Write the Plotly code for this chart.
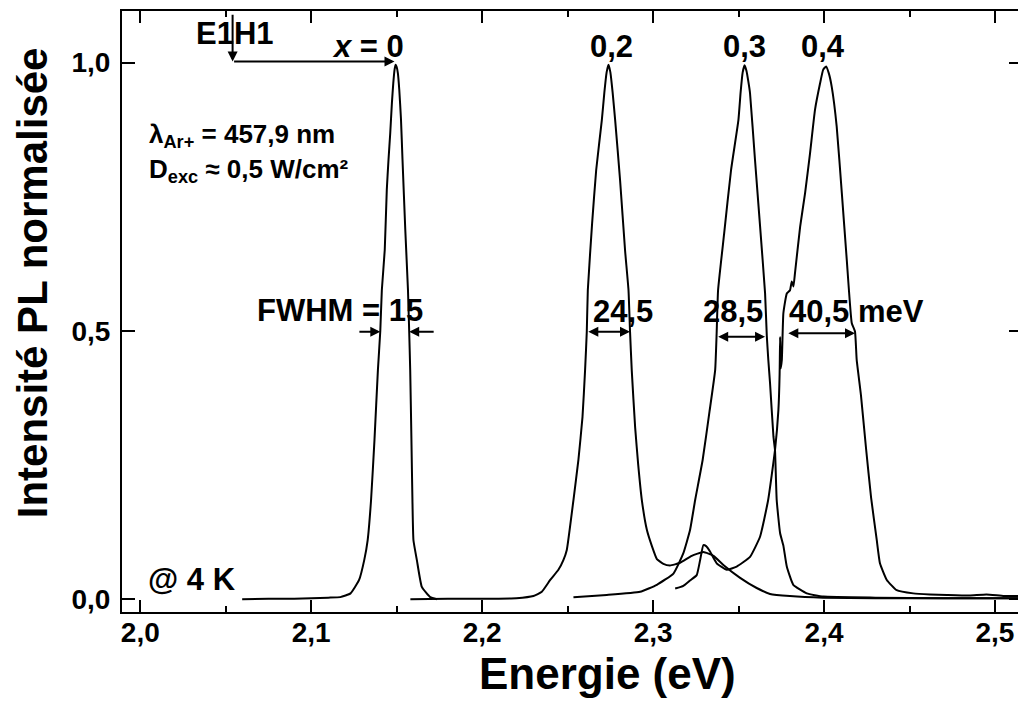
import plotly.graph_objects as go

# ---- data (energy in eV, normalised PL intensity) ----
x0_E = [2.0596, 2.075, 2.090, 2.100, 2.110, 2.117, 2.123, 2.128, 2.131, 2.133, 2.135, 2.137, 2.139,
        2.1404, 2.1413, 2.1430, 2.1442, 2.1452, 2.1462, 2.1472, 2.1480, 2.1488, 2.1494, 2.1500,
        2.1507, 2.1515, 2.1525, 2.1534, 2.1550, 2.1566, 2.1573, 2.1579, 2.1586, 2.1592, 2.1598,
        2.1618, 2.1647, 2.1696, 2.1735]
x0_I = [0.000, 0.001, 0.001, 0.002, 0.003, 0.004, 0.011, 0.036, 0.073, 0.110, 0.185, 0.297, 0.427,
        0.500, 0.576, 0.651, 0.763, 0.819, 0.868, 0.925, 0.962, 0.988, 0.996, 0.992,
        0.980, 0.950, 0.895, 0.819, 0.690, 0.576, 0.500, 0.427, 0.300, 0.185, 0.110,
        0.073, 0.023, 0.004, 0.000]

x2_E = [2.158, 2.180, 2.200, 2.220, 2.2300, 2.2349, 2.2398, 2.2446, 2.2475, 2.2495, 2.2534, 2.2563,
        2.2587, 2.2602, 2.2612, 2.2618, 2.2643, 2.2667, 2.2700, 2.2715, 2.2728, 2.2739, 2.2750,
        2.2763, 2.2778, 2.2807, 2.2836, 2.2856, 2.2865, 2.2875, 2.2895, 2.2913, 2.2934, 2.2963,
        2.2992, 2.3022, 2.3060, 2.3099, 2.3158, 2.3226, 2.3294, 2.3353, 2.3411, 2.3509, 2.3606,
        2.3684, 2.3800, 2.3994, 2.4300, 2.4700, 2.5146]
x2_I = [0.000, 0.001, 0.001, 0.002, 0.006, 0.014, 0.036, 0.055, 0.073, 0.092, 0.185, 0.260,
        0.340, 0.427, 0.499, 0.576, 0.700, 0.800, 0.893, 0.945, 0.982, 0.996, 0.982,
        0.945, 0.893, 0.780, 0.650, 0.576, 0.499, 0.427, 0.320, 0.250, 0.185, 0.130,
        0.100, 0.075, 0.066, 0.063, 0.068, 0.081, 0.088, 0.081, 0.064, 0.040, 0.021,
        0.010, 0.006, 0.003, 0.002, 0.002, 0.002]

x3_E = [2.2534, 2.2729, 2.2924, 2.3022, 2.3119, 2.3177, 2.3216, 2.3246, 2.3290, 2.3330, 2.3363,
        2.3372, 2.3380, 2.3415, 2.3456, 2.3499, 2.3512, 2.3524, 2.3535, 2.3546, 2.3557, 2.3567,
        2.3596, 2.3626, 2.3655, 2.3665, 2.3674, 2.3684, 2.3704, 2.3713, 2.3723, 2.3743, 2.3762,
        2.3782, 2.3820, 2.3899, 2.3996, 2.4300, 2.4700, 2.5146]
x3_I = [0.004, 0.008, 0.014, 0.027, 0.048, 0.086, 0.129, 0.185, 0.260, 0.350, 0.427,
        0.499, 0.576, 0.680, 0.800, 0.893, 0.945, 0.982, 0.995, 0.985, 0.965, 0.943,
        0.819, 0.694, 0.570, 0.491, 0.446, 0.403, 0.303, 0.278, 0.185, 0.123, 0.100,
        0.061, 0.027, 0.011, 0.005, 0.003, 0.002, 0.002]

x4_E = [2.3129, 2.3177, 2.3216, 2.3255, 2.3275, 2.3294, 2.3310, 2.3333, 2.3372, 2.3431, 2.3489,
        2.3567, 2.3626, 2.3673, 2.3713, 2.3733, 2.3740, 2.3743, 2.3746, 2.3753, 2.3762, 2.3782,
        2.3801, 2.3811, 2.3821, 2.3830, 2.3860, 2.3889, 2.3918, 2.3947, 2.3977, 2.3995, 2.4012,
        2.4028, 2.4045, 2.4074, 2.4104, 2.4133, 2.4162, 2.4181, 2.4191, 2.4216, 2.4246, 2.4275,
        2.4308, 2.4327, 2.4367, 2.4425, 2.4522, 2.4620, 2.4718, 2.4850, 2.4950, 2.5053, 2.5146]
x4_I = [0.020, 0.025, 0.035, 0.045, 0.073, 0.101, 0.099, 0.089, 0.067, 0.055, 0.061,
        0.079, 0.117, 0.185, 0.278, 0.353, 0.420, 0.489, 0.430, 0.446, 0.533, 0.570,
        0.576, 0.592, 0.583, 0.608, 0.694, 0.757, 0.831, 0.912, 0.962, 0.987, 0.993,
        0.980, 0.955, 0.881, 0.757, 0.632, 0.515, 0.499, 0.446, 0.380, 0.280, 0.190,
        0.111, 0.067, 0.036, 0.017, 0.011, 0.009, 0.008, 0.007, 0.009, 0.006, 0.006]

x_ticks = [2.0, 2.1, 2.2, 2.3, 2.4, 2.5]
y_ticks = [0.0, 0.5, 1.0]

FONT = "Liberation Sans, Arial, sans-serif"
BLACK = "black"

fig = go.Figure()
for xs, ys in [(x0_E, x0_I), (x2_E, x2_I), (x3_E, x3_I), (x4_E, x4_I)]:
    fig.add_trace(go.Scatter(x=xs, y=ys, mode="lines",
                             line=dict(color=BLACK, width=2, shape="spline", smoothing=0.4),
                             showlegend=False, hoverinfo="skip"))

def txt(x, y, t, size=31, xanchor="center", xref="x", yref="y", angle=0):
    fig.add_annotation(x=x, y=y, xref=xref, yref=yref, text=t, showarrow=False,
                       xanchor=xanchor, yanchor="middle", textangle=angle,
                       font=dict(family=FONT, size=size, color=BLACK, weight="bold"))

def arrow(xh, yh, xt, yt, both=False):
    fig.add_annotation(x=xh, y=yh, ax=xt, ay=yt, xref="x", yref="y", axref="x", ayref="y",
                       text="", showarrow=True, arrowhead=2, arrowsize=1.0, arrowwidth=2,
                       arrowcolor=BLACK, standoff=0, startstandoff=0,
                       arrowside="end+start" if both else "end", startarrowhead=2,
                       startarrowsize=1.0)

# peak labels
txt(2.0556, 1.0553, "E1H1")
txt(2.1333, 1.0298, "<i>x</i> = 0")
txt(2.2757, 1.0298, "0,2")
txt(2.3532, 1.0298, "0,3")
txt(2.3994, 1.0298, "0,4")

# E1H1 pointer
arrow(2.054, 1.002, 2.054, 1.092)
arrow(2.1487, 1.002, 2.054, 1.002)

# excitation info
txt(2.0041, 0.8634, "λ<sub>Ar+</sub> = 457,9 nm", size=26, xanchor="left")
txt(2.0041, 0.800, "D<sub>exc</sub> ≈ 0,5 W/cm²", size=26, xanchor="left")

# FWHM labels and arrows
txt(2.117, 0.539, "FWHM = 15")
arrow(2.1404, 0.4987, 2.1273, 0.4987)
arrow(2.1573, 0.4987, 2.1725, 0.4987)
txt(2.2822, 0.537, "24,5")
arrow(2.2865, 0.4987, 2.2612, 0.4987, both=True)
txt(2.3468, 0.537, "28,5")
arrow(2.3655, 0.4894, 2.3372, 0.4894, both=True)
txt(2.4187, 0.537, "40,5 meV")
arrow(2.4181, 0.4957, 2.3782, 0.4957, both=True)

txt(2.0301, 0.0378, "@ 4 K")

# axis titles
txt(0.539, -0.1015, "Energie (eV)", size=44, xref="paper", yref="paper")
txt(-0.1, 0.547, "Intensité PL normalisée", size=42, xref="paper", yref="paper", angle=-90)

axis_common = dict(showline=True, linewidth=2, linecolor=BLACK, mirror="ticks",
                   ticks="inside", tickwidth=2, tickcolor=BLACK, showgrid=False,
                   zeroline=False, tickformat=".1f", automargin=False,
                   tickfont=dict(family=FONT, size=28, color=BLACK, weight="bold"))

fig.update_xaxes(range=[1.9893, 2.5158], tickvals=x_ticks, ticklen=12,
                 ticklabelstandoff=-6,
                 minor=dict(dtick=0.05, tick0=2.0, ticks="inside", ticklen=6,
                            tickwidth=2, tickcolor=BLACK, showgrid=False),
                 **axis_common)
fig.update_yaxes(range=[-0.0237, 1.0963], tickvals=y_ticks, ticklen=13,
                 ticklabelstandoff=4, **axis_common)

# the page body adds an 8 px offset, so the figure is sized to fit the window after it
fig.update_layout(width=1018, height=693, margin=dict(l=114, r=4, t=3, b=89),
                  plot_bgcolor="white", paper_bgcolor="white", separators=",.",
                  font=dict(family=FONT, color=BLACK))

fig.write_html("out.html")
